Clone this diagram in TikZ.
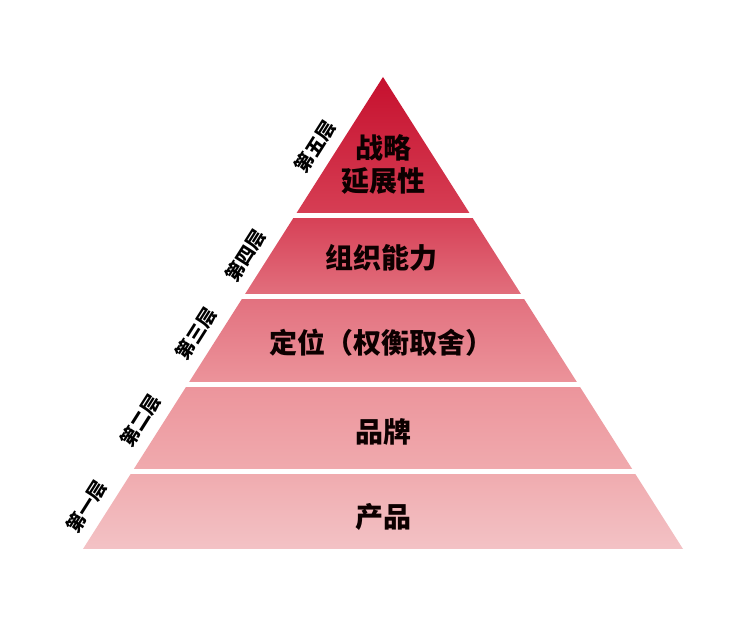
\documentclass[tikz,border=0pt]{standalone}
\usepackage{fontspec}
\newfontfamily\cjk{Noto Sans CJK SC}
\usetikzlibrary{calc}
\pgfdeclareverticalshading{pyramidfill}{100bp}{rgb(0bp)=(0.953,0.761,0.773); rgb(25bp)=(0.953,0.761,0.773); rgb(33.4bp)=(0.941,0.667,0.682); rgb(42.5bp)=(0.925,0.580,0.608); rgb(51.8bp)=(0.886,0.439,0.494); rgb(60.6bp)=(0.839,0.243,0.329); rgb(75bp)=(0.776,0.063,0.180); rgb(100bp)=(0.776,0.063,0.180)}
\tikzstyle{tier}=  [font=\cjk\bfseries\fontsize{28}{33}\selectfont,
text=black!95!red,
align=center,
inner sep=0pt,
]
\tikzstyle{layerlabel}=  [font=\cjk\bfseries\fontsize{19}{22}\selectfont,
rotate=57.6,
inner sep=0pt,
]
\tikzstyle{seam}=  [white,
line width=5pt,
shorten <=-4pt,
shorten >=-4pt,
]

\begin{document}
\begin{tikzpicture}[x=1pt, y=1pt]
        \useasboundingbox[fill=white] (0,0) rectangle (750,623);
        \coordinate (apex) at (383,546);
        \coordinate (bl) at (83,74);
        \coordinate (br) at (683,74);
        \shade[shading=pyramidfill] (apex) -- (bl) -- (br) -- cycle;

        % white seams between the layers
        \foreach \t in {0.2934,0.4650,0.6515,0.8358}
            \draw[seam] ($(apex)!\t!(bl)$) -- ($(apex)!\t!(br)$);

        \node[tier] (strategy) at (383,459) {战略\\延展性};
        \node[tier] (capability) at (381,365) {组织能力};
        \node[tier] (position) at (381,280) {定位（权衡取舍）};
        \node[tier] (brand) at (383,191) {品牌};
        \node[tier] (product) at (383,106) {产品};

        \foreach \t/\name/\txt in {0.170/layer5/第五层, 0.401/layer4/第四层, 0.567/layer3/第三层, 0.751/layer2/第二层, 0.933/layer1/第一层}
            \node[layerlabel] (\name) at ($(apex)!\t!(bl)!20pt!90:(apex)$) {\txt};
    \end{tikzpicture}
\end{document}
